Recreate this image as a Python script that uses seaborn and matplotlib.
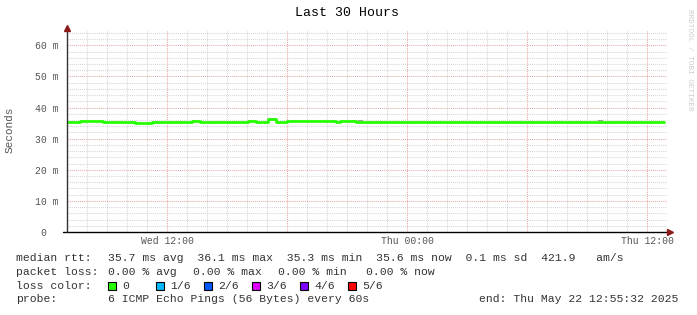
import matplotlib
matplotlib.use("Agg")
import matplotlib.pyplot as plt
import seaborn as sns
import pandas as pd
from matplotlib.patches import Rectangle

# ---------------- data ----------------
# time in hours since Wed 00:00, step starts of the median rtt line
seg_hours = [6.925, 7.65, 8.8, 10.4, 11.25, 13.25, 13.65, 16.05, 16.45,
             17.05, 17.45, 18.0, 20.45, 20.65, 21.45, 36.85]
median_ms = [35.45, 35.8, 35.5, 35.1, 35.5, 35.8, 35.5, 35.8, 35.5,
             36.2, 35.45, 35.8, 35.5, 35.8, 35.5, 35.5]
# small smoke (ping spread) fragments
smoke_start = [17.05, 21.55, 33.55]
smoke_end = [17.45, 21.8, 33.8]
smoke_lo = [36.2, 35.8, 35.8]
smoke_hi = [36.6, 36.05, 36.05]

x_label_hours = [12, 24, 36]
x_labels = ["Wed 12:00", "Thu 00:00", "Thu 12:00"]
y_ticks = [0, 10, 20, 30, 40, 50, 60]
y_labels = ["0  ", "10 m", "20 m", "30 m", "40 m", "50 m", "60 m"]

loss_labels = ["0", "1/6", "2/6", "3/6", "4/6", "5/6"]
loss_colors = ["#26ff00", "#00b8ff", "#0059ff", "#e000ff", "#7e00ff", "#ff0000"]

rtt_items = ["35.7 ms avg", "36.1 ms max", "35.3 ms min", "35.6 ms now",
             "0.1 ms sd", "421.9", " am/s"]
loss_items = ["0.00 % avg", "0.00 % max", "0.00 % min", "0.00 % now"]
probe_text = "6 ICMP Echo Pings (56 Bytes) every 60s"
end_text = "end: Thu May 22 12:55:32 2025"
title = "Last 30 Hours"

# ---------------- style ----------------
sns.set_style("white")
plt.rcParams["font.family"] = ["Liberation Mono", "DejaVu Sans Mono"]

W, H = 697, 315
fig = plt.figure(figsize=(W / 100, H / 100), dpi=100)
fig.patch.set_facecolor("white")

X0, X1, YB, YT = 67, 667, 232, 29.8
ax = fig.add_axes([X0 / W, (H - YB) / H, (X1 - X0) / W, (YB - YT) / H])
ax.set_facecolor("white")
ax.set_xlim(7, 37)
ax.set_ylim(0, 65)
for s in ax.spines.values():
    s.set_visible(False)

minor_col = "#d6d6d6"
major_col = "#e8a8a8"
dash = (0, (1, 1))

# grid lines
for h in range(7, 38):
    if h % 6 != 0:
        ax.axvline(h, color=minor_col, lw=0.75, ls=dash, zorder=1)
for v in range(2, 65, 2):
    if v % 10 != 0:
        ax.axhline(v, color=minor_col, lw=0.75, ls=dash, zorder=1)
for h in range(12, 37, 6):
    ax.axvline(h, color=major_col, lw=0.75, ls=dash, zorder=1.5)
for v in y_ticks[1:]:
    ax.axhline(v, color=major_col, lw=0.75, ls=dash, zorder=1.5)

# smoke
for s0, s1, lo, hi in zip(smoke_start, smoke_end, smoke_lo, smoke_hi):
    ax.fill_between([s0, s1], [lo, lo], [hi, hi], color="#a0a0a0", lw=0, zorder=2)

# median line
df = pd.DataFrame({"hours": seg_hours, "ms": median_ms})
sns.lineplot(data=df, x="hours", y="ms", ax=ax, color=loss_colors[0],
             drawstyle="steps-post", lw=2.0, zorder=3, legend=False)

# ticks
ax.set_xticks(list(range(12, 37, 6)))
ax.set_xticklabels([x_labels[x_label_hours.index(h)] if h in x_label_hours else ""
                    for h in range(12, 37, 6)])
ax.set_yticks(y_ticks)
ax.set_yticklabels(y_labels)
ax.tick_params(axis="x", length=2.5, width=0.75, color=major_col, pad=0.5,
               labelsize=7, labelcolor="#555555")
ax.tick_params(axis="y", length=3, width=0.75, color="#999999", pad=3,
               labelsize=7, labelcolor="#555555")
ax.set_xlabel("")
ax.set_ylabel("")

# axes lines with arrows
ax.plot([6.8, 37.1], [0, 0], color="black", lw=1.0, clip_on=False, zorder=5)
ax.plot([7, 7], [0, 65.6], color="#333333", lw=1.0, clip_on=False, zorder=5)
ax.plot([37.15], [0], marker=">", color="#8b1a1a", ms=5, clip_on=False, zorder=6)
ax.plot([7], [65.7], marker="^", color="#8b1a1a", ms=5, clip_on=False, zorder=6)

# texts
def px(x, y):
    return x / W, 1 - y / H

fig.text(*px(347, 13), title, ha="center", va="center", fontsize=9.5, color="black")
fig.text(*px(10, 130), "Seconds", rotation=90, ha="center", va="center",
         fontsize=8, color="#555555")
fig.text(*px(690, 60), "RRDTOOL / TOBI OETIKER", rotation=270, ha="center",
         va="center", fontsize=5.5, color="#cccccc")

fs = 8.2
tc = "#333333"
row_y = [258, 272, 286, 299]
fig.text(*px(16, row_y[0]), "median rtt:", fontsize=fs, color=tc, va="center")
fig.text(*px(108, row_y[0]), "  ".join(rtt_items),
         fontsize=fs, color=tc, va="center")
fig.text(*px(16, row_y[1]), "packet loss:", fontsize=fs, color=tc, va="center")
for xx, t in zip([108, 193, 278, 366], loss_items):
    fig.text(*px(xx, row_y[1]), t, fontsize=fs, color=tc, va="center")
fig.text(*px(16, row_y[2]), "loss color:", fontsize=fs, color=tc, va="center")
for i, (lab, col) in enumerate(zip(loss_labels, loss_colors)):
    xx = 108 + 48 * i
    fig.add_artist(Rectangle(px(xx, row_y[2] + 4), 8 / W, 8 / H, facecolor=col,
                             edgecolor="black", lw=0.8, transform=fig.transFigure))
    fig.text(*px(xx + 14, row_y[2]), lab, fontsize=fs, color=tc, va="center")
fig.text(*px(16, row_y[3]), "probe:", fontsize=fs, color=tc, va="center")
fig.text(*px(108, row_y[3]), probe_text, fontsize=fs, color=tc, va="center")
fig.text(*px(479, row_y[3]), end_text, fontsize=fs, color=tc, va="center")

fig.savefig("out.png", dpi=100, facecolor="white")
